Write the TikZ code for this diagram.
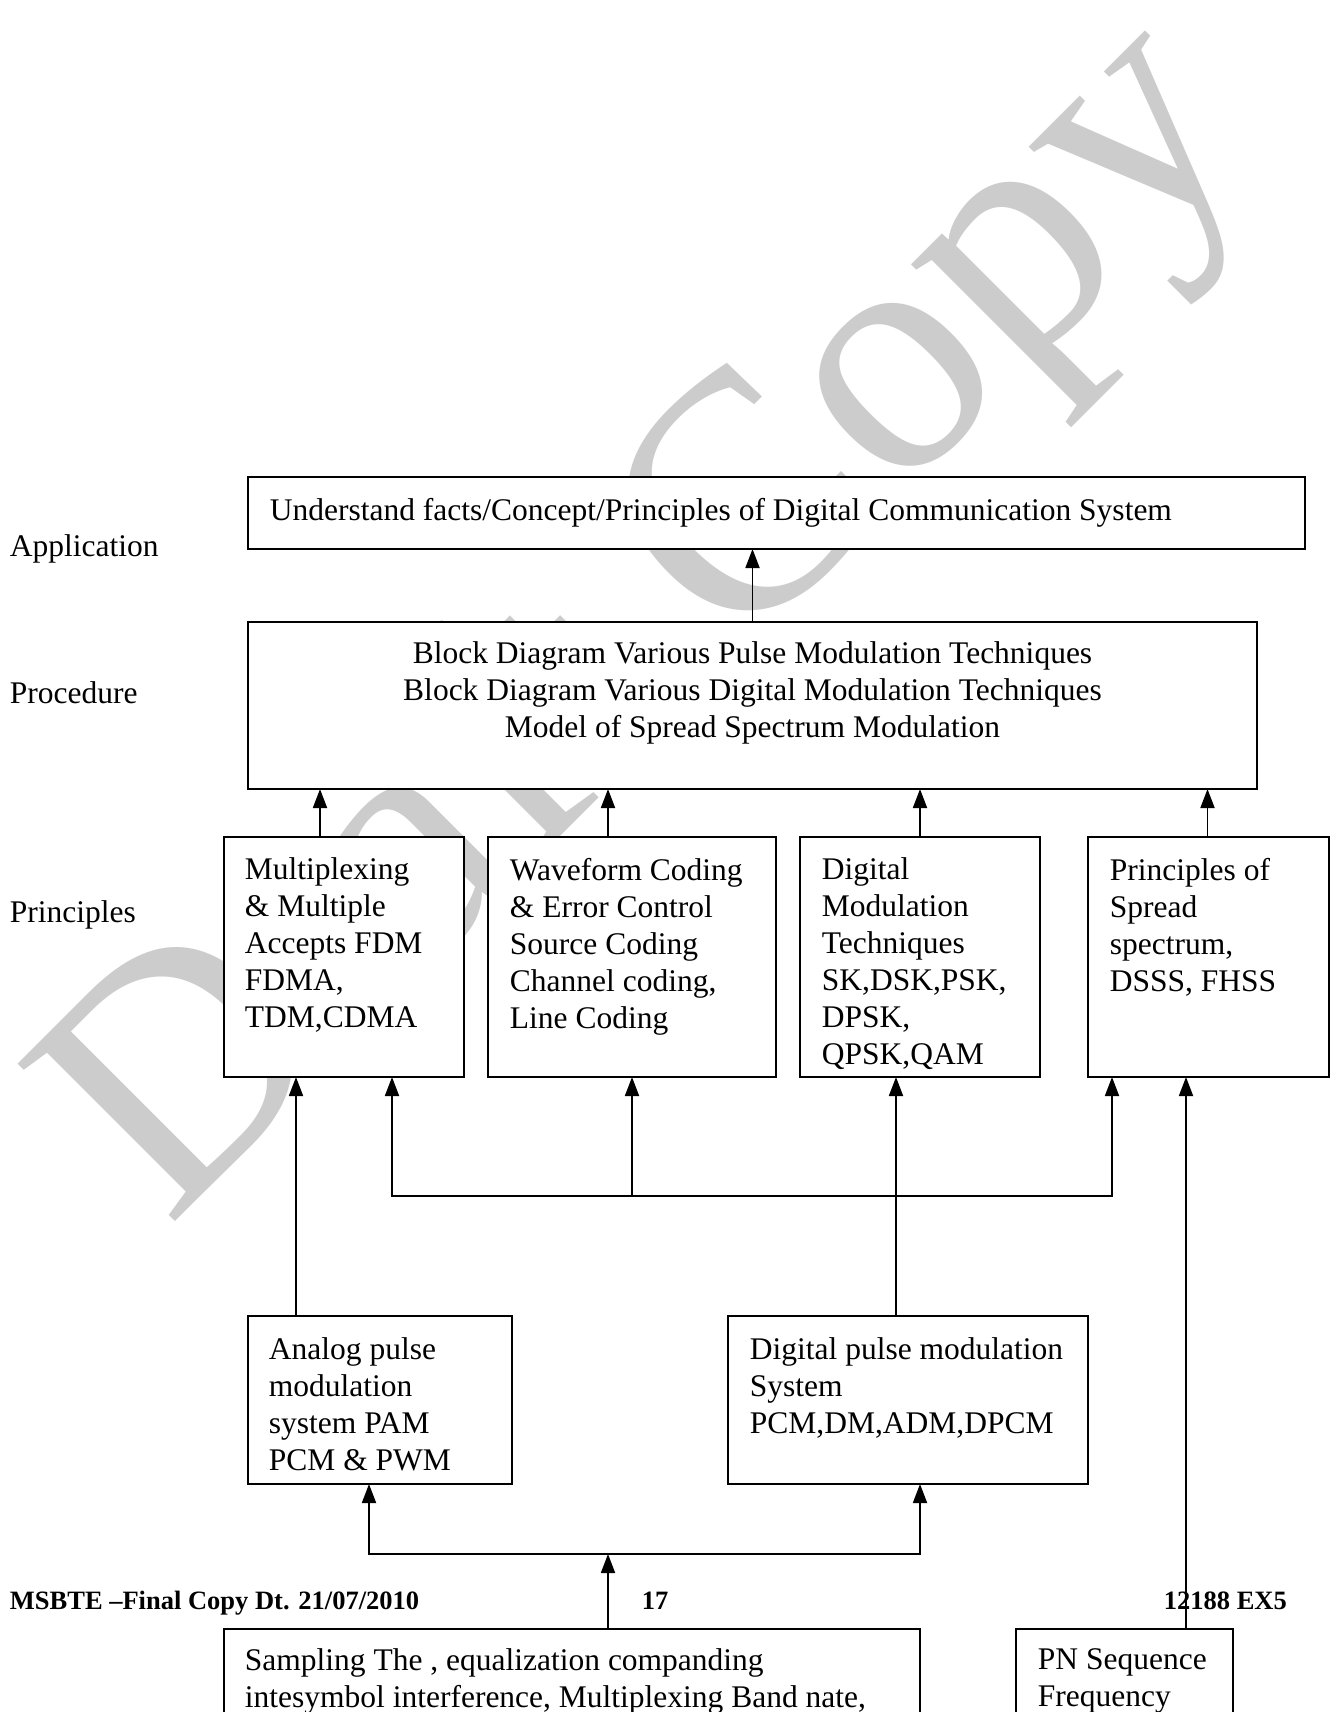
\documentclass[tikz,border=0pt]{standalone}
\usepackage{fontspec}
\setmainfont{Liberation Serif}
\usetikzlibrary{arrows.meta,positioning,calc}

\begin{document}
\begin{tikzpicture}[x=1pt,y=-1pt,>={Triangle[width=14pt,length=19pt]},
  font=\fontsize{31.5}{37}\selectfont, line width=1.8pt,
  blk/.style={draw,fill=white,inner sep=0,outer sep=0pt,anchor=north west},
  txt/.style={inner sep=0,align=left,anchor=north west,execute at begin node=\strut},
  lbl/.style={inner sep=0,anchor=base west},
  foot/.style={inner sep=0,anchor=base west,font=\fontsize{26.5}{30}\selectfont\bfseries},
  wmark/.style={inner sep=0,text=black!20,font=\fontsize{340}{340}\selectfont}]
  \useasboundingbox (0,0) rectangle (1337,1712);
  \clip (0,0) rectangle (1337,1712);
  % watermark
  \node[wmark,rotate=45,anchor=base west] (draft) at (168,1229) {Draft Copy};
  % levels
  \node[lbl] (lapp) at (9,556) {Application};
  \node[lbl] (lproc) at (9,703) {Procedure};
  \node[lbl] (lprin) at (9,922) {Principles};
  % boxes
  \node[blk,minimum width=1057,minimum height=72] (app) at (248,477) {};
  \node[blk,minimum width=1009,minimum height=167] (proc) at (248,622) {};
  \node[blk,minimum width=240,minimum height=240] (mux) at (224,837) {};
  \node[blk,minimum width=288,minimum height=240,right=24pt of mux] (wave) {};
  \node[blk,minimum width=240,minimum height=240,right=24pt of wave] (dmod) {};
  \node[blk,minimum width=241,minimum height=240,right=48pt of dmod] (ss) {};
  \node[blk,minimum width=264,minimum height=168] (ana) at (248,1316) {};
  \node[blk,minimum width=360,minimum height=168] (dig) at (728,1316) {};
  \node[blk,minimum width=696,minimum height=150] (samp) at (224,1629) {};
  \node[blk,minimum width=217,minimum height=150] (pn) at (1016,1629) {};
  % texts
  \node[txt] (apptxt) at ($(app.north west)+(21,17)$) {Understand facts/Concept/Principles of Digital Communication System};
  \node[txt,align=center,anchor=north] (proctxt) at ($(proc.north)+(0,19)$)
    {Block Diagram Various Pulse Modulation Techniques\\Block Diagram Various Digital Modulation Techniques\\Model of Spread Spectrum Modulation};
  \node[txt] (muxtxt) at ($(mux.north west)+(20,20)$) {Multiplexing\\\& Multiple\\Accepts FDM\\FDMA,\\TDM,CDMA};
  \node[txt] (wavetxt) at ($(wave.north west)+(21,20)$) {Waveform Coding\\\& Error Control\\Source Coding\\Channel coding,\\Line Coding};
  \node[txt] (dmodtxt) at ($(dmod.north west)+(21,20)$) {Digital\\Modulation\\Techniques\\SK,DSK,PSK,\\DPSK,\\QPSK,QAM};
  \node[txt] (sstxt) at ($(ss.north west)+(21,20)$) {Principles of\\Spread\\spectrum,\\DSSS, FHSS};
  \node[txt] (anatxt) at ($(ana.north west)+(20,21)$) {Analog pulse\\modulation\\system PAM\\PCM \& PWM};
  \node[txt] (digtxt) at ($(dig.north west)+(21,21)$) {Digital pulse modulation\\System\\PCM,DM,ADM,DPCM};
  \node[txt] (samptxt) at ($(samp.north west)+(20,19)$) {Sampling The , equalization companding\\intesymbol interference, Multiplexing Band nate,};
  \node[txt] (pntxt) at ($(pn.north west)+(21,19)$) {PN Sequence\\Frequency};
  % footer
  \node[foot] (msbte) at (9,1609) {MSBTE –Final Copy Dt. 21/07/2010};
  \node[foot,anchor=base] (pageno) at (655,1609) {17};
  \node[foot] (code) at (1163,1609) {12188 EX5};
  % arrows up
  \draw[->] (proc.north) -- (proc.north |- app.south);
  \foreach \b/\dx in {mux/-24pt,wave/-24pt,dmod/0pt,ss/-1pt}
    \draw[->] ([xshift=\dx]\b.north) -- ([xshift=\dx]\b.north |- proc.south);
  \coordinate (anaout) at ([xshift=48pt]ana.north west);
  \draw[->] (anaout) -- (anaout |- mux.south);
  \coordinate (digout) at ([xshift=-12pt]dig.north);
  \draw[->] (digout) -- (digout |- dmod.south);
  \coordinate (bus) at ($(wave.south)+(0,119)$);
  \draw[->] (bus) -- (wave.south);
  \draw[->] (bus) -| ([xshift=48pt]mux.south);
  \draw[->] (bus) -| ([xshift=24pt]ss.south west);
  \coordinate (lbus) at ($(samp.north)+(36,-75)$);
  \draw[->] ([xshift=36pt]samp.north) -- (lbus);
  \draw[->] (lbus) -| ([xshift=-11pt]ana.south);
  \draw[->] (lbus) -| ([xshift=12pt]dig.south);
  \coordinate (pnout) at ([xshift=61.5pt]pn.north);
  \draw[->] (pnout) -- (pnout |- ss.south);
\end{tikzpicture}
\end{document}
